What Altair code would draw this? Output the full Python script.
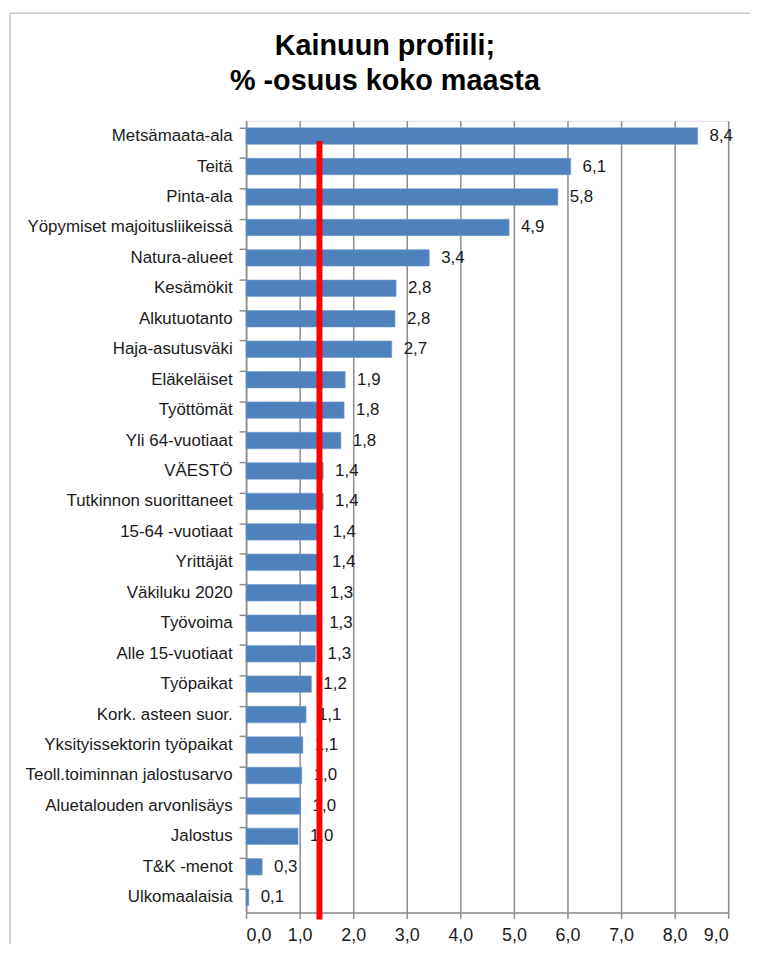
import altair as alt
import pandas as pd

categories = [
    "Metsämaata-ala", "Teitä", "Pinta-ala", "Yöpymiset majoitusliikeissä",
    "Natura-alueet", "Kesämökit", "Alkutuotanto", "Haja-asutusväki",
    "Eläkeläiset", "Työttömät", "Yli 64-vuotiaat", "VÄESTÖ",
    "Tutkinnon suorittaneet", "15-64 -vuotiaat", "Yrittäjät", "Väkiluku 2020",
    "Työvoima", "Alle 15-vuotiaat", "Työpaikat", "Kork. asteen suor.",
    "Yksityissektorin työpaikat", "Teoll.toiminnan jalostusarvo",
    "Aluetalouden arvonlisäys", "Jalostus", "T&K -menot", "Ulkomaalaisia",
]
values = [
    8.43, 6.06, 5.82, 4.91, 3.42, 2.80, 2.78, 2.72,
    1.85, 1.83, 1.77, 1.44, 1.44, 1.39, 1.38, 1.34,
    1.33, 1.30, 1.22, 1.12, 1.06, 1.04, 1.02, 0.97, 0.30, 0.05,
]
reference_value = 1.37   # red reference line
reference_start = "Metsämaata-ala"
title_lines = ["Kainuun profiili;", "% -osuus koko maasta"]

WIDTH = 486
HEIGHT = 798
FONT = "Liberation Sans"

df = pd.DataFrame({"cat": categories, "value": values})
ref_df = pd.DataFrame({"cat": [reference_start], "value": [reference_value]})

y_scale = alt.Scale(domain=categories, paddingInner=0.46, paddingOuter=0.23)
x_scale = alt.Scale(domain=[0, 9])

bars = alt.Chart(df).mark_bar(color="#4F81BD", stroke="#6f9bd0", strokeWidth=0.6).encode(
    x=alt.X("value:Q", scale=x_scale, title=None,
            axis=alt.Axis(values=list(range(10)), grid=True, gridColor="#8c8c8c", gridWidth=1.5,
                          domainColor="#8c8c8c", domainWidth=1.5, tickColor="#8c8c8c",
                          tickWidth=1.5, tickSize=6, labelPadding=8, labelFontSize=18,
                          labelFont=FONT, labelColor="#1a1a1a",
                          labelExpr="replace(format(datum.value, '.1f'), '.', ',')")),
    y=alt.Y("cat:N", scale=y_scale, sort=categories, title=None,
            axis=alt.Axis(bandPosition=0, tickSize=7, labelLimit=400,
                          tickColor="#8c8c8c", tickWidth=1.5, domainColor="#8c8c8c",
                          domainWidth=1.5, labelPadding=7, labelFontSize=17,
                          labelFont=FONT, labelColor="#1a1a1a", grid=False)),
)

labels = alt.Chart(df).transform_calculate(
    lbl="replace(format(datum.value, '.1f'), '.', ',')"
).mark_text(align="left", baseline="middle", dx=12, fontSize=17, font=FONT,
            color="#1a1a1a").encode(
    x=alt.X("value:Q", scale=x_scale),
    y=alt.Y("cat:N", scale=y_scale, sort=categories),
    text="lbl:N",
)

ref_line = alt.Chart(ref_df).mark_rule(color="#ff0000", strokeWidth=6).encode(
    x=alt.X("value:Q", scale=x_scale),
    y=alt.Y("cat:N", scale=y_scale, sort=categories, bandPosition=0.8),
    y2=alt.value(HEIGHT + 7),
)

frame_left = alt.Chart(ref_df).mark_rule(color="#c8c8c8", strokeWidth=1.5).encode(
    x=alt.value(-238), y=alt.value(-108.5), y2=alt.value(HEIGHT + 40),
)
frame_top = alt.Chart(ref_df).mark_rule(color="#c8c8c8", strokeWidth=1.5).encode(
    x=alt.value(-238), x2=alt.value(WIDTH + 30), y=alt.value(-108.5),
)

chart = alt.layer(frame_left, frame_top, bars, labels, ref_line).properties(
    width=WIDTH,
    height=HEIGHT,
    autosize=alt.AutoSizeParams(type="none"),
    padding={"left": 240, "top": 110, "right": 22, "bottom": 28},
    title=alt.TitleParams(text=title_lines, font=FONT, fontSize=29, fontWeight="bold",
                          color="#000000", lineHeight=35, anchor="middle", dx=-103,
                          offset=-84),
).configure_view(stroke=None).configure(background="white")

chart.save("out.html", embed_options={"renderer": "svg", "actions": False})
